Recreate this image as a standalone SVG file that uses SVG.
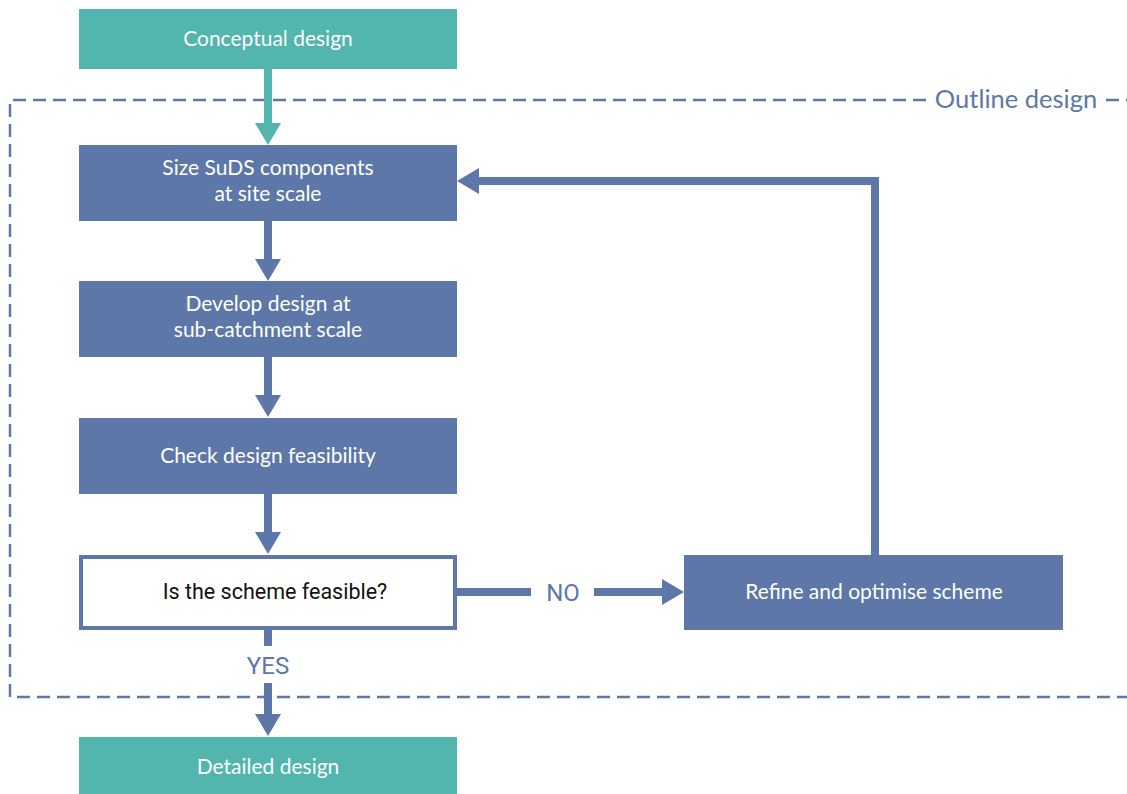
<svg xmlns="http://www.w3.org/2000/svg" width="1127" height="794" viewBox="0 0 1127 794">
<style>
.teal{fill:#52B5AE}
.blue{fill:#5C77A8}
.lbl{font-family:Lato,"Open Sans","Liberation Sans",sans-serif;font-size:21px;fill:#ffffff;text-anchor:middle}
.dark{font-family:Roboto,"Liberation Sans",sans-serif;font-size:21.5px;fill:#111111;text-anchor:middle}
.yn{font-family:Roboto,"Liberation Sans",sans-serif;font-size:24px;fill:#5C77A8;text-anchor:middle}
.conn{fill:none;stroke:#5C77A8;stroke-width:8}
.dash{fill:none;stroke:#5C77A8;stroke-width:2.5;stroke-dasharray:13 7}
</style>
<defs>
<marker id="ah" markerUnits="userSpaceOnUse" viewBox="0 0 22 26" refX="0" refY="13" markerWidth="22" markerHeight="26" orient="auto">
<path d="M0 0 L22 13 L0 26 Z" fill="#5C77A8"/>
</marker>
<marker id="aht" markerUnits="userSpaceOnUse" viewBox="0 0 22 26" refX="0" refY="13" markerWidth="22" markerHeight="26" orient="auto">
<path d="M0 0 L22 13 L0 26 Z" fill="#52B5AE"/>
</marker>
</defs>
<rect width="1127" height="794" fill="#ffffff"/>

<g id="outline">
<path class="dash" d="M926 100 H10 V697 H1127"/>
<path class="dash" d="M1106 100 H1127"/>
<text x="1016" y="108" style="font-family:Lato,'Open Sans','Liberation Sans',sans-serif;font-size:25.5px;fill:#5C77A8;text-anchor:middle">Outline design</text>
</g>

<g id="connectors">
<path d="M268 69 V123" style="fill:none;stroke:#52B5AE;stroke-width:8" marker-end="url(#aht)"/>
<path class="conn" d="M268 221 V259" marker-end="url(#ah)"/>
<path class="conn" d="M268 357 V395" marker-end="url(#ah)"/>
<path class="conn" d="M268 494 V532" marker-end="url(#ah)"/>
<path class="conn" d="M875 555 V181 H479" marker-end="url(#ah)"/>
<path class="conn" d="M457 592 H531"/>
<path class="conn" d="M594 592 H662" marker-end="url(#ah)"/>
<path class="conn" d="M268 630 V646"/>
<path class="conn" d="M268 683 V714" marker-end="url(#ah)"/>
<text class="yn" x="563" y="601">NO</text>
<text class="yn" x="268" y="674">YES</text>
</g>

<g id="conceptual">
<rect class="teal" x="79" y="9" width="378" height="60"/>
<text class="lbl" x="268" y="46">Conceptual design</text>
</g>

<g id="size">
<rect class="blue" x="79" y="145" width="378" height="76"/>
<text class="lbl" x="268" y="175">Size SuDS components</text>
<text class="lbl" x="268" y="201">at site scale</text>
</g>

<g id="develop">
<rect class="blue" x="79" y="281" width="378" height="76"/>
<text class="lbl" x="268" y="311">Develop design at</text>
<text class="lbl" x="268" y="337">sub-catchment scale</text>
</g>

<g id="check">
<rect class="blue" x="79" y="418" width="378" height="76"/>
<text class="lbl" x="268" y="463">Check design feasibility</text>
</g>

<g id="feasible">
<rect x="81" y="557" width="374" height="71" fill="#ffffff" stroke="#5C77A8" stroke-width="4"/>
<text class="dark" x="275" y="599">Is the scheme feasible?</text>
</g>

<g id="refine">
<rect class="blue" x="684" y="555" width="379" height="75"/>
<text class="lbl" x="874" y="599">Refine and optimise scheme</text>
</g>

<g id="detailed">
<rect class="teal" x="79" y="737" width="378" height="60"/>
<text class="lbl" x="268" y="774">Detailed design</text>
</g>
</svg>
